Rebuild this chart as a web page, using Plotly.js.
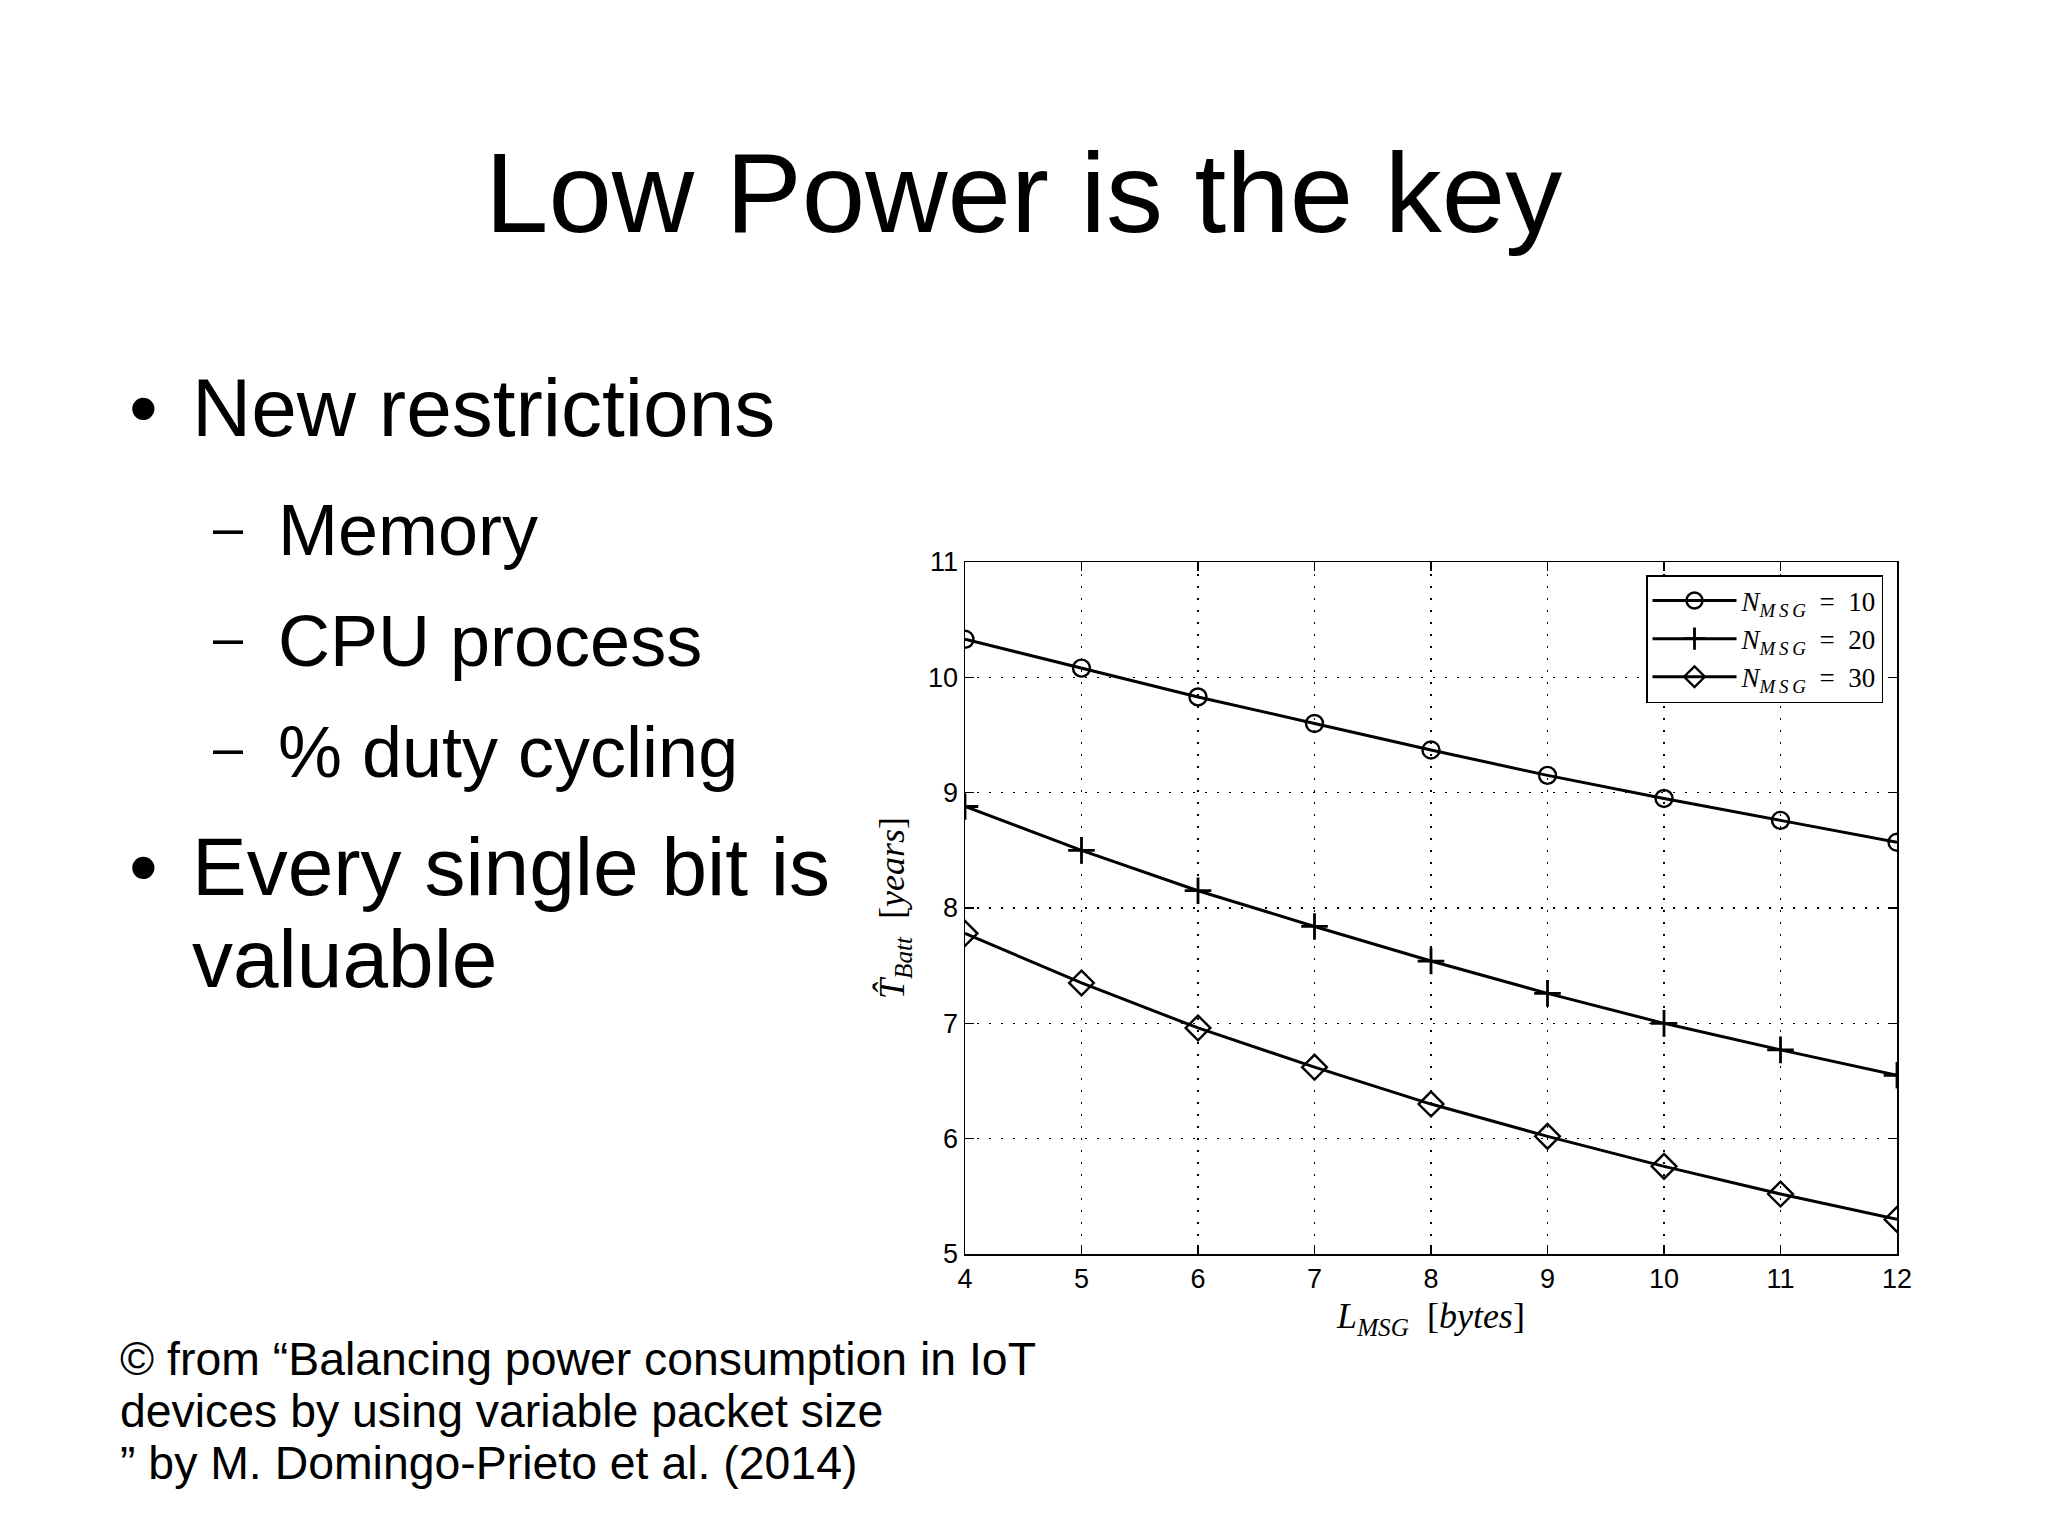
<!DOCTYPE html>
<html>
<head>
<meta charset="utf-8">
<script src="https://cdn.plot.ly/plotly-3.0.1.min.js"></script>
<style>
  html, body { margin: 0; padding: 0; background: #ffffff; }
  #chart { width: 2048px; height: 1535px; }
</style>
</head>
<body>
<div id="chart"></div>
<script>
// ---- Data ----
const lMsg = [4, 5, 6, 7, 8, 9, 10, 11, 12];
const tBattN10 = [10.33, 10.08, 9.83, 9.60, 9.37, 9.15, 8.95, 8.76, 8.57];
const tBattN20 = [8.88, 8.50, 8.15, 7.84, 7.54, 7.26, 7.00, 6.77, 6.55];
const tBattN30 = [7.78, 7.35, 6.96, 6.62, 6.30, 6.02, 5.76, 5.52, 5.30];
const seriesNames = [
  '<i>N</i><sub><i>M\u2009S\u2009G</i></sub>\u00A0\u00A0=\u00A0\u00A010',
  '<i>N</i><sub><i>M\u2009S\u2009G</i></sub>\u00A0\u00A0=\u00A0\u00A020',
  '<i>N</i><sub><i>M\u2009S\u2009G</i></sub>\u00A0\u00A0=\u00A0\u00A030'
];
const slideTitle = 'Low Power is the key';
const bulletMain = ['New restrictions', 'Every single bit is', 'valuable'];
const bulletSub = ['Memory', 'CPU process', '% duty cycling'];
const captionLines = [
  '\u00A9 from \u201CBalancing power consumption in IoT',
  'devices by using variable packet size',
  '\u201D by M. Domingo-Prieto et al. (2014)'
];

// ---- Layout geometry (pixels) ----
const W = 2048, H = 1535;
const plotL = 965, plotT = 562, plotW = 932, plotH = 692;
const px = x => (x - plotL) / plotW;
const py = y => (plotT + plotH - y) / plotH;

const sans = 'Liberation Sans, Arial, sans-serif';
const serif = 'Liberation Serif, Times New Roman, serif';

const lineStyle = { color: '#000000', width: 3 };
const traces = [
  { x: lMsg, y: tBattN10, name: seriesNames[0], mode: 'lines+markers', line: lineStyle,
    marker: { symbol: 'circle-open', size: 17, color: '#000000', line: { width: 2.4, color: '#000000' } } },
  { x: lMsg, y: tBattN20, name: seriesNames[1], mode: 'lines+markers', line: lineStyle,
    marker: { symbol: 'cross-thin-open', size: 19, color: '#000000', line: { width: 2.8, color: '#000000' } } },
  { x: lMsg, y: tBattN30, name: seriesNames[2], mode: 'lines+markers', line: lineStyle,
    marker: { symbol: 'diamond-open', size: 19, color: '#000000', line: { width: 2.4, color: '#000000' } } }
];

function ann(text, x, y, size, xanchor) {
  return { text: text, xref: 'paper', yref: 'paper', x: px(x), y: py(y),
    xanchor: xanchor || 'left', yanchor: 'middle', showarrow: false,
    font: { family: sans, size: size, color: '#000000' } };
}

const annotations = [];
annotations.push(ann(slideTitle, 1023, 232 - 0.3465 * 114, 114, 'center'));
// main bullets
annotations.push(ann('\u2022', 127, 436 - 0.3465 * 82, 82));
annotations.push(ann(bulletMain[0], 190, 436 - 0.3465 * 82, 82));
annotations.push(ann('\u2022', 127, 895 - 0.3465 * 82, 82));
annotations.push(ann(bulletMain[1], 190, 895 - 0.3465 * 82, 82));
annotations.push(ann(bulletMain[2], 190, 987 - 0.3465 * 82, 82));
// sub bullets
const subBase = [555, 666, 777];
const dashMid = [527, 637, 747];
bulletSub.forEach((t, i) => {
  annotations.push(ann('\u2013', 211, dashMid[i], 54));
  annotations.push(ann(t, 276, subBase[i] - 0.3465 * 72, 72));
});
// caption
const capBase = [1375, 1427, 1479];
captionLines.forEach((t, i) => {
  annotations.push(ann(t, 118, capBase[i] - 0.3465 * 46.4, 46.4));
});

const axisCommon = {
  showline: true, linecolor: '#000000', linewidth: 1.5, mirror: 'ticks',
  ticks: 'inside', ticklen: 9, tickwidth: 1.5, tickcolor: '#000000',
  showgrid: true, gridcolor: '#000000', gridwidth: 1.2, griddash: '2px,10px',
  zeroline: false, dtick: 1,
  tickfont: { family: sans, size: 27, color: '#000000' }
};

const layout = {
  width: W, height: H,
  paper_bgcolor: '#ffffff', plot_bgcolor: '#ffffff',
  margin: { l: plotL, r: W - plotL - plotW, t: plotT, b: H - plotT - plotH, pad: 0 },
  showlegend: true,
  legend: {
    x: px(1883), y: py(575), xanchor: 'right', yanchor: 'top',
    bgcolor: '#ffffff', bordercolor: '#000000', borderwidth: 1.5,
    font: { family: serif, size: 27, color: '#000000' },
    itemwidth: 84,
    tracegroupgap: 0
  },
  xaxis: Object.assign({}, axisCommon, {
    range: [4, 12], tick0: 4,
    title: { text: '<i>L</i><sub><i>MSG</i></sub>  [<i>bytes</i>]', font: { family: serif, size: 36, color: '#000000' }, standoff: 10 }
  }),
  yaxis: Object.assign({}, axisCommon, {
    range: [5, 11], tick0: 5,
    title: { text: '<i>T\u0302</i><sub><i>Batt</i></sub>  [<i>years</i>]', font: { family: serif, size: 36, color: '#000000' }, standoff: 12 }
  }),
  annotations: annotations
};

Plotly.newPlot('chart', traces, layout, { displayModeBar: false, staticPlot: true });
</script>
</body>
</html>
